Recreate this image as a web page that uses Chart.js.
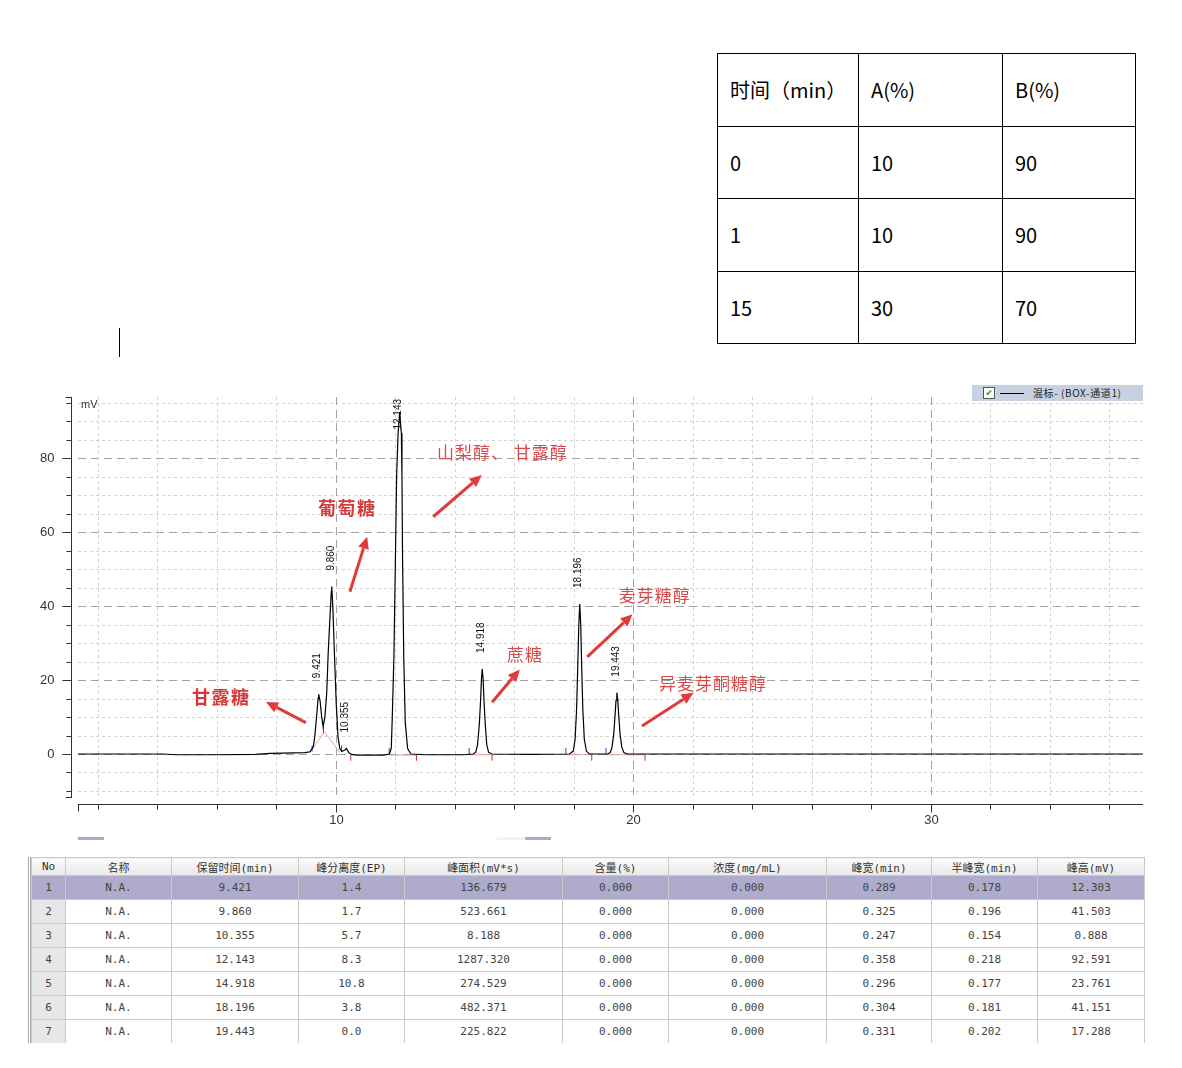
<!DOCTYPE html>
<html>
<head>
<meta charset="utf-8">
<script src="https://cdn.jsdelivr.net/npm/chart.js@4.4.0/dist/chart.umd.min.js"></script>
<style>
  body { margin: 0; width: 1182px; height: 1068px; overflow: hidden; background: #fff; position: relative; font-family: "Noto Sans CJK SC", sans-serif; }
  #gradient { position: absolute; left: 717px; top: 53px; border-collapse: collapse; font-size: 20px; color: #000; }
  #gradient td { border: 1px solid #000; padding: 0 0 0 12px; height: 71.5px; vertical-align: middle; }
  #cursor { position: absolute; left: 119px; top: 328px; width: 1px; height: 29px; background: #000; }
  #chartBox { position: absolute; left: 0; top: 370px; width: 1182px; height: 480px; }
  #legend { position: absolute; left: 972px; top: 385px; width: 171px; height: 16px; background: #c8d1e2; font-size: 10px; color: #222; }
  #legend .cb { position: absolute; left: 11px; top: 2px; width: 10px; height: 10px; border: 1px solid #555; background: #fff; color: #1a9a2a; font: bold 9px "DejaVu Sans"; line-height: 10px; text-align: center; }
  #legend .ln { position: absolute; left: 28px; top: 8px; width: 24px; height: 1px; background: #000; }
  #legend .tx { position: absolute; left: 61px; top: 0; line-height: 16px; white-space: nowrap; letter-spacing: 0.6px; }
  .scroll { position: absolute; top: 837px; height: 3px; background: #aaa8cc; }
  #peakWrap { position: absolute; left: 28px; top: 857px; width: 1115px; height: 186px; overflow: hidden; border-left: 3px double #aaa; }
  #peaks { border-collapse: collapse; font: 11px "DejaVu Sans Mono", "Noto Sans CJK SC", monospace; color: #444; table-layout: fixed; }
  #peaks td { border: 1px solid #c9c9c9; text-align: center; padding: 0; height: 23px; white-space: nowrap; overflow: hidden; }
  #peaks tr.head td { height: 17px; background: linear-gradient(#fbfbfb, #e9e9e9); color: #333; }
  #peaks td.no { background: #e7e7e7; }
  #peaks tr.sel td { background: #aeabcc; }
</style>
</head>
<body>

<table id="gradient"></table>
<div id="cursor"></div>

<div id="chartBox"><canvas id="chromo" width="1182" height="480"></canvas></div>
<div id="legend"><span class="cb">&#10004;</span><span class="ln"></span><span class="tx">混标- (BOX-通道1)</span></div>
<div class="scroll" style="left:78px; width:26px;"></div>
<div class="scroll" style="left:497px; width:27px; background:#f3f3f3;"></div>
<div class="scroll" style="left:525px; width:26px;"></div>

<div id="peakWrap"><table id="peaks"></table></div>

<script>
// gradient program table
const gradHeader = ["时间（min）", "A(%)", "B(%)"];
const gradTime = ["0", "1", "15"];
const gradA = ["10", "10", "30"];
const gradB = ["90", "90", "70"];

// chromatogram trace (min, mV)
const traceTime = [
  1.33, 3.0, 4.2, 4.6, 6.0, 7.3, 7.8, 8.6, 8.96, 9.13,
  9.24, 9.29, 9.35, 9.40, 9.421, 9.47, 9.52, 9.57, 9.63, 9.69,
  9.74, 9.80, 9.845, 9.860, 9.90, 9.95, 10.01, 10.07, 10.13, 10.20,
  10.30, 10.355, 10.43, 10.52, 10.7, 11.6, 11.80, 11.86, 11.89, 11.95,
  12.00, 12.04, 12.09, 12.143, 12.20, 12.22, 12.24, 12.28, 12.33, 12.41,
  12.52, 13.0, 14.3, 14.62, 14.70, 14.76, 14.82, 14.86, 14.89, 14.918,
  14.95, 14.98, 15.02, 15.07, 15.13, 15.25, 16.5, 17.85, 17.98, 18.04,
  18.09, 18.13, 18.165, 18.196, 18.23, 18.26, 18.30, 18.35, 18.42, 18.52,
  19.14, 19.22, 19.28, 19.34, 19.38, 19.415, 19.443, 19.475, 19.51, 19.55,
  19.61, 19.68, 19.80, 25.0, 37.13
];
const traceMv = [
  0, 0, 0, -0.2, -0.2, -0.1, 0.2, 0.3, 0.4, 0.6,
  2.0, 4.7, 10.1, 15.1, 16.2, 14.2, 10.1, 7.4, 10.1, 16.4,
  27.2, 37.1, 44.0, 45.3, 39.0, 27.2, 13.7, 4.7, 1.5, 0.7,
  1.1, 1.5, 0.4, -0.1, -0.3, -0.3, 0, 1.5, 8.7, 26.4,
  53, 75, 86.8, 92.5, 86.8, 75, 53, 26.4, 8.7, 1.5,
  0, -0.2, -0.2, 0, 0.5, 2.5, 8, 14, 20, 23.0,
  20, 14, 8, 2.5, 0.5, 0, -0.1, 0, 0.8, 4,
  12, 24, 35, 40.6, 35, 24, 12, 4, 0.8, 0,
  0, 0.4, 1.8, 5.5, 10, 14.5, 16.6, 14.5, 10, 5.5,
  1.8, 0.4, 0, 0, 0
];

// integration marks
const startTimes = [9.20, 9.58, 10.19, 11.79, 14.48, 17.73, 19.08];
const startMv = [1.5, 6.5, 1.5, 0.8, 0.8, 0.8, 0.8];
const endTimes = [10.50, 12.71, 15.25, 18.60, 20.39];
const endMv = [-1.0, -1.0, -1.0, -1.0, -1.0];
const baseTime = [9.13, 9.61, 10.13, null, 11.79, 12.71, null, 14.48, 15.25, null, 17.73, 18.60, null, 19.08, 20.39];
const baseMv = [0.35, 6.0, 0.5, null, -0.3, -0.3, null, -0.2, -0.2, null, -0.2, -0.2, null, -0.2, -0.2];

// peak table
const peakTimes = [9.421, 9.860, 10.355, 12.143, 14.918, 18.196, 19.443];
const peakTops = [16.2, 45.3, 1.5, 92.5, 23.0, 40.6, 16.6];
const peakHeader = ["No", "名称", "保留时间(min)", "峰分离度(EP)", "峰面积(mV*s)", "含量(%)", "浓度(mg/mL)", "峰宽(min)", "半峰宽(min)", "峰高(mV)"];
const peakName = ["N.A.", "N.A.", "N.A.", "N.A.", "N.A.", "N.A.", "N.A."];
const peakRes = ["1.4", "1.7", "5.7", "8.3", "10.8", "3.8", "0.0"];
const peakArea = ["136.679", "523.661", "8.188", "1287.320", "274.529", "482.371", "225.822"];
const peakContent = ["0.000", "0.000", "0.000", "0.000", "0.000", "0.000", "0.000"];
const peakConc = ["0.000", "0.000", "0.000", "0.000", "0.000", "0.000", "0.000"];
const peakWidth = ["0.289", "0.325", "0.247", "0.358", "0.296", "0.304", "0.331"];
const peakHalf = ["0.178", "0.196", "0.154", "0.218", "0.177", "0.181", "0.202"];
const peakHeight = ["12.303", "41.503", "0.888", "92.591", "23.761", "41.151", "17.288"];

// compound notes: [text, time, mV, bold]
const notes = [
  ["甘露糖", 5.16, 15.4, true],
  ["葡萄糖", 9.395, 66.6, true],
  ["山梨醇、 甘露醇", 13.395, 81.7, false],
  ["蔗糖", 15.75, 26.8, false],
  ["麦芽糖醇", 19.51, 43.0, false],
  ["异麦芽酮糖醇", 20.86, 19.2, false]
];
// arrows: [fromTime, fromMv, toTime, toMv]
const arrows = [
  [8.99, 8.5, 7.65, 14.1],
  [10.47, 43.9, 11.05, 58.8],
  [13.27, 64.2, 14.90, 75.5],
  [15.25, 14.0, 16.18, 22.9],
  [18.45, 26.3, 19.97, 37.8],
  [20.29, 7.6, 22.02, 16.6]
];

// ---- tables ----
const grad = document.getElementById('gradient');
const gradWidths = [128, 131, 120];
[gradHeader].concat(gradTime.map((t, i) => [t, gradA[i], gradB[i]])).forEach(row => {
  const tr = document.createElement('tr');
  row.forEach((txt, c) => {
    const td = document.createElement('td');
    td.textContent = txt;
    td.style.width = gradWidths[c] + 'px';
    tr.appendChild(td);
  });
  grad.appendChild(tr);
});

const peaks = document.getElementById('peaks');
const colWidths = [34, 106, 127, 106, 158, 106, 158, 105, 106, 107];
const colgroup = document.createElement('colgroup');
colWidths.forEach(w => {
  const col = document.createElement('col');
  col.style.width = w + 'px';
  colgroup.appendChild(col);
});
peaks.appendChild(colgroup);
const headRow = document.createElement('tr');
headRow.className = 'head';
peakHeader.forEach(h => {
  const td = document.createElement('td');
  td.textContent = h;
  headRow.appendChild(td);
});
peaks.appendChild(headRow);
peakTimes.forEach((t, i) => {
  const tr = document.createElement('tr');
  if (i === 0) tr.className = 'sel';
  const cells = [String(i + 1), peakName[i], t.toFixed(3), peakRes[i], peakArea[i], peakContent[i], peakConc[i], peakWidth[i], peakHalf[i], peakHeight[i]];
  cells.forEach((txt, c) => {
    const td = document.createElement('td');
    td.textContent = txt;
    if (c === 0) td.className = 'no';
    tr.appendChild(td);
  });
  peaks.appendChild(tr);
});

// ---- chart ----
const zip = (xs, ys) => xs.map((x, i) => ({ x: x === null ? NaN : x, y: ys[i] }));

const chromoDecor = {
  id: 'chromoDecor',
  beforeDatasetsDraw(chart) {
    const { ctx, chartArea: a, scales: { x, y } } = chart;
    ctx.save();
    ctx.lineWidth = 1;
    for (let v = -10; v <= 95; v += 5) {
      const py = Math.round(y.getPixelForValue(v)) + 0.5;
      const major = v % 20 === 0;
      ctx.strokeStyle = major ? '#a3a3a3' : '#d2d2d2';
      ctx.setLineDash(major ? [8, 5] : [3, 3]);
      ctx.beginPath(); ctx.moveTo(a.left, py); ctx.lineTo(a.right, py); ctx.stroke();
    }
    for (let t = 2; t <= 36; t += 2) {
      const px = Math.round(x.getPixelForValue(t)) + 0.5;
      const major = t % 10 === 0;
      ctx.strokeStyle = major ? '#a3a3a3' : '#d2d2d2';
      ctx.setLineDash(major ? [8, 5] : [3, 3]);
      ctx.beginPath(); ctx.moveTo(px, a.top); ctx.lineTo(px, a.bottom); ctx.stroke();
    }
    ctx.restore();
  },
  afterDatasetsDraw(chart) {
    const { ctx, chartArea: a, scales: { x, y } } = chart;
    ctx.save();
    ctx.strokeStyle = '#333';
    ctx.fillStyle = '#333';
    ctx.lineWidth = 1;

    // y axis, set a little left of the plot
    const ax = a.left - 6.5;
    ctx.beginPath(); ctx.moveTo(ax, a.top); ctx.lineTo(ax, a.bottom); ctx.stroke();
    ctx.beginPath(); ctx.moveTo(ax - 6, a.top + 0.5); ctx.lineTo(ax, a.top + 0.5); ctx.stroke();
    ctx.beginPath(); ctx.moveTo(ax - 6, a.bottom - 0.5); ctx.lineTo(ax, a.bottom - 0.5); ctx.stroke();
    ctx.font = '13px "Liberation Sans", Arial';
    ctx.textAlign = 'right';
    ctx.textBaseline = 'middle';
    for (let v = -10; v <= 95; v += 5) {
      const py = Math.round(y.getPixelForValue(v)) + 0.5;
      const major = v % 20 === 0;
      ctx.beginPath(); ctx.moveTo(ax - (major ? 9 : 5), py); ctx.lineTo(ax, py); ctx.stroke();
      if (major && v >= 0) ctx.fillText(String(v), ax - 17, py);
    }
    ctx.font = '11px "Liberation Sans", Arial';
    ctx.textAlign = 'left';
    ctx.fillText('mV', a.left + 3, a.top + 8);

    // x axis, set a little below the plot
    const ay = a.bottom + 6.5;
    ctx.beginPath(); ctx.moveTo(a.left, ay); ctx.lineTo(a.right, ay); ctx.stroke();
    ctx.beginPath(); ctx.moveTo(a.left + 0.5, ay); ctx.lineTo(a.left + 0.5, ay + 7); ctx.stroke();
    ctx.font = '13px "Liberation Sans", Arial';
    ctx.textAlign = 'center';
    for (let t = 2; t <= 36; t += 2) {
      const px = Math.round(x.getPixelForValue(t)) + 0.5;
      const major = t % 10 === 0;
      ctx.beginPath(); ctx.moveTo(px, ay); ctx.lineTo(px, ay + (major ? 8 : 5)); ctx.stroke();
      if (major) ctx.fillText(String(t), px, ay + 16);
    }

    // retention time labels
    ctx.font = '10px "Liberation Sans", Arial';
    ctx.fillStyle = '#111';
    ctx.textAlign = 'left';
    ctx.textBaseline = 'middle';
    peakTimes.forEach((t, i) => {
      const label = t.toFixed(3);
      const w = ctx.measureText(label).width;
      const px = x.getPixelForValue(t) - 1;
      const start = Math.max(y.getPixelForValue(peakTops[i]) - 16, a.top + 2 + w);
      ctx.save();
      ctx.translate(px, start);
      ctx.rotate(-Math.PI / 2);
      ctx.fillText(label, 0, 0);
      ctx.restore();
    });

    // compound notes and arrows
    ctx.textAlign = 'left';
    notes.forEach(([txt, t, v, bold]) => {
      ctx.font = (bold ? 'bold 18px' : '17px') + ' "Noto Sans CJK SC"';
      ctx.fillStyle = bold ? '#d53a3a' : '#d94a4a';
      ctx.letterSpacing = bold ? '1.5px' : '1px';
      ctx.fillText(txt, x.getPixelForValue(t), y.getPixelForValue(v));
    });
    ctx.letterSpacing = '0px';
    ctx.strokeStyle = '#e03a3a';
    ctx.fillStyle = '#e03a3a';
    ctx.lineWidth = 3;
    arrows.forEach(([t1, v1, t2, v2]) => {
      const x1 = x.getPixelForValue(t1), y1 = y.getPixelForValue(v1);
      const x2 = x.getPixelForValue(t2), y2 = y.getPixelForValue(v2);
      const ang = Math.atan2(y2 - y1, x2 - x1);
      const head = 12, half = 5.5;
      const bx = x2 - head * Math.cos(ang), by = y2 - head * Math.sin(ang);
      ctx.beginPath(); ctx.moveTo(x1, y1); ctx.lineTo(bx, by); ctx.stroke();
      ctx.beginPath();
      ctx.moveTo(x2, y2);
      ctx.lineTo(bx + half * Math.sin(ang), by - half * Math.cos(ang));
      ctx.lineTo(bx - half * Math.sin(ang), by + half * Math.cos(ang));
      ctx.closePath();
      ctx.fill();
    });
    ctx.restore();
  }
};

new Chart(document.getElementById('chromo'), {
  type: 'line',
  data: {
    datasets: [
      {
        label: '混标-(BOX-通道1)',
        data: zip(traceTime, traceMv),
        borderColor: '#000',
        borderWidth: 1.2,
        pointRadius: 0,
        tension: 0,
        order: 0
      },
      {
        label: 'baseline',
        data: zip(baseTime, baseMv),
        borderColor: '#f0a0a0',
        borderWidth: 1,
        pointRadius: 0,
        spanGaps: false,
        order: 3
      },
      {
        label: 'start',
        data: zip(startTimes, startMv),
        showLine: false,
        pointStyle: 'line',
        rotation: 90,
        radius: 3,
        borderColor: '#3a3ad0',
        borderWidth: 1,
        order: 1
      },
      {
        label: 'end',
        data: zip(endTimes, endMv),
        showLine: false,
        pointStyle: 'line',
        rotation: 90,
        radius: 3,
        borderColor: '#d03030',
        borderWidth: 1,
        order: 1
      }
    ]
  },
  options: {
    responsive: false,
    animation: false,
    layout: { padding: { left: 78, right: 39, top: 27, bottom: 52 } },
    scales: {
      x: { type: 'linear', min: 1.33, max: 37.13, display: false },
      y: { type: 'linear', min: -11.9, max: 96.6, display: false }
    },
    plugins: {
      legend: { display: false },
      tooltip: { enabled: false }
    }
  },
  plugins: [chromoDecor]
});
</script>
</body>
</html>
